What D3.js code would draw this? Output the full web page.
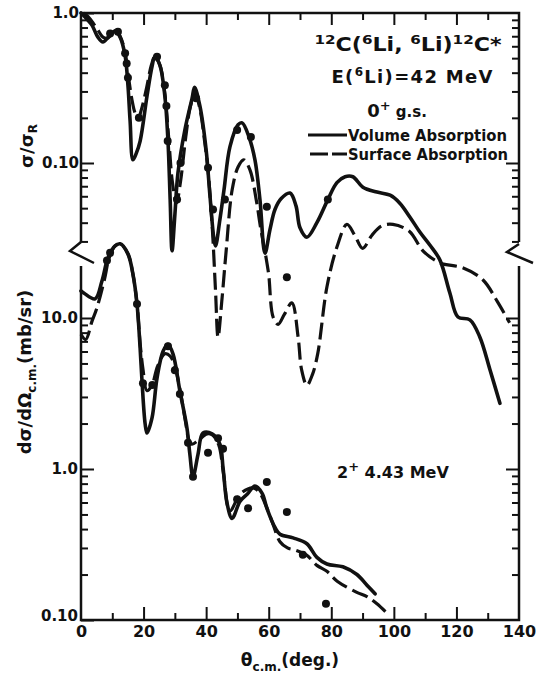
<!DOCTYPE html>
<html><head><meta charset="utf-8">
<script src="https://cdn.jsdelivr.net/npm/d3@7"></script>
<style>
html,body{margin:0;padding:0;background:#fff;}
svg{display:block;}
text{font-family:"DejaVu Sans",Verdana,sans-serif;font-weight:bold;fill:#111;}
</style></head><body>
<svg id="chart" width="537" height="675"></svg>
<script>
// 0+ ground state, sigma/sigma_R : [theta_cm (deg), value]
const gsVolume = [[0,1.0],[1.5,0.93],[3.5,0.83],[5.4,0.69],[7.0,0.64],[9.0,0.70],[11.0,0.76],[12.5,0.69],[14.1,0.52],[15.0,0.33],[15.7,0.19],[16.6,0.105],[17.6,0.115],[18.9,0.14],[21.1,0.28],[22.7,0.44],[23.6,0.51],[25.2,0.45],[26.8,0.28],[27.8,0.14],[28.5,0.057],[29.1,0.026],[30.0,0.045],[31.0,0.086],[33.2,0.166],[35.5,0.27],[36.3,0.32],[38.0,0.24],[40.0,0.122],[41.2,0.061],[42.5,0.031],[43.0,0.028],[44.4,0.042],[45.7,0.066],[47.6,0.128],[50.2,0.18],[51.5,0.185],[53.7,0.149],[55.6,0.105],[57.2,0.057],[58.8,0.025],[60.4,0.036],[62.0,0.049],[64.0,0.058],[66.8,0.063],[68.7,0.052],[70.0,0.037],[72.2,0.032],[75.4,0.040],[78.9,0.057],[81.8,0.074],[84.4,0.081],[86.9,0.081],[90.1,0.069],[94.6,0.064],[98.8,0.061],[101.9,0.054],[105.1,0.0437],[108.3,0.0347],[111.5,0.0284],[114.7,0.0226],[117.9,0.0136],[120.5,0.0094],[124.3,0.0090],[127.5,0.0069],[130.7,0.0042],[133.9,0.0025]];
const gsSurface = [[0.8,1.0],[2.2,0.95],[4.0,0.85],[5.4,0.77],[7.0,0.69],[8.5,0.68],[10.0,0.73],[11.2,0.76],[12.5,0.70],[14.0,0.56],[15.0,0.40],[16.2,0.27],[17.3,0.215],[18.3,0.20],[19.5,0.235],[21.0,0.32],[22.5,0.45],[23.6,0.51],[25.2,0.45],[26.8,0.29],[28.0,0.15],[29.2,0.075],[30.5,0.054],[31.8,0.075],[33.5,0.15],[35.0,0.24],[36.5,0.29],[38.0,0.23],[39.5,0.14],[40.6,0.09],[42.0,0.036],[43.0,0.014],[43.8,0.0069],[45.0,0.012],[46.4,0.026],[48.3,0.066],[50.2,0.094],[52.0,0.105],[54.0,0.09],[56.0,0.057],[57.5,0.036],[59.0,0.0244],[60.0,0.018],[61.4,0.0094],[63.0,0.0084],[65.0,0.0098],[67.4,0.0117],[69.4,0.0069],[70.5,0.0042],[72.2,0.0033],[74.0,0.0039],[75.7,0.0054],[78.6,0.0149],[81.8,0.0275],[85.0,0.039],[87.5,0.033],[90.0,0.027],[93.0,0.033],[96.0,0.038],[99.7,0.039],[105.0,0.035],[109.3,0.026],[114.7,0.0216],[122.0,0.020],[128.5,0.0166],[133.0,0.012],[137.0,0.0086]];
const gsData = [[9.3,0.73],[11.8,0.75],[14.1,0.54],[14.6,0.46],[15.0,0.37],[18.5,0.20],[24.3,0.51],[26.8,0.33],[27.3,0.24],[27.7,0.14],[30.7,0.057],[31.8,0.10],[36.8,0.27],[40.6,0.093],[42.2,0.049],[46.0,0.057],[49.9,0.166],[54.3,0.149],[59.4,0.051],[65.8,0.0173],[78.9,0.057]];

// 2+ 4.43 MeV, dsigma/dOmega (mb/sr)
const exVolume = [[0,15.1],[1.0,14.6],[4.5,13.4],[6.7,17.6],[8.6,24.9],[10.9,30],[12.5,31],[15.0,26.6],[16.6,19.5],[17.9,12.4],[18.9,6.3],[19.5,3.83],[20.5,1.99],[21.1,1.73],[22.7,2.18],[24.3,4.0],[26.2,6.0],[27.8,6.7],[29.4,5.78],[31.6,3.29],[33.9,1.85],[34.8,1.25],[35.8,0.89],[37.4,1.25],[39.0,1.73],[41.9,1.71],[44.4,1.46],[45.4,1.02],[46.7,0.59],[48.3,0.47],[50.8,0.61],[53.1,0.68],[55.6,0.77],[57.9,0.69],[59.4,0.55],[62.0,0.41],[63.6,0.37],[67.8,0.35],[72.2,0.32],[75.4,0.26],[78.6,0.235],[83.7,0.225],[88.2,0.20],[91.4,0.17],[94.0,0.149]];
const exSurface = [[0,7.8],[1.5,7.2],[3.5,9.5],[5.0,11.5],[7.5,18],[9.0,25],[10.9,30],[12.5,31],[15.0,26.6],[16.6,19.5],[17.9,12.4],[18.9,6.8],[19.8,4.6],[21.1,3.3],[22.7,3.6],[24.5,4.8],[26.8,5.8],[28.5,5.6],[30.0,4.8],[31.6,3.4],[33.5,2.0],[34.5,1.55],[35.5,1.46],[37.5,1.55],[40.3,1.71],[42.0,1.68],[44.0,1.45],[45.5,0.95],[47.6,0.53],[51.1,0.69],[55.0,0.75],[57.0,0.70],[59.0,0.58],[61.4,0.43],[63.6,0.33],[66.0,0.30],[68.5,0.29],[72.0,0.27],[75.4,0.23],[78.6,0.21],[82.0,0.18],[88.0,0.153],[91.4,0.143],[94.6,0.128],[97.8,0.111]];
const exData = [[8.3,24],[9.3,27],[17.9,12.4],[19.8,3.7],[22.8,3.6],[27.8,6.5],[30.0,4.5],[31.6,3.14],[34.2,1.49],[35.8,0.89],[40.6,1.28],[43.8,1.60],[45.4,1.36],[49.9,0.63],[53.4,0.55],[59.4,0.82],[65.8,0.52],[70.9,0.27],[78.3,0.128]];

// axis ticks and labels
const xTicks = d3.range(0, 141, 10);
const xLabels = [0, 20, 40, 60, 80, 100, 120, 140];
const topTicks = [0.03,0.04,0.05,0.06,0.07,0.08,0.09,0.1,0.2,0.3,0.4,0.5,0.6,0.7,0.8,0.9,1.0];
const topLabels = new Map([[1.0,"1.0"],[0.1,"0.10"]]);
const botTicks = [0.1,0.2,0.3,0.4,0.5,0.6,0.7,0.8,0.9,1,2,3,4,5,6,7,8,9,10];
const botLabels = new Map([[10,"10.0"],[1,"1.0"],[0.1,"0.10"]]);

const ink = "#111";
const svg = d3.select("#chart");
const L = 81, R = 519, T = 13, B = 620;
const x = d3.scaleLinear().domain([0, 140]).range([L, R]);
const yTop = d3.scaleLog().domain([0.1, 1]).range([163, T]);
const yBot = d3.scaleLog().domain([0.1, 10]).range([B, 318]);
const breakTop = 242, breakBot = 266;

function styleAxis(g) {
  g.select(".domain").remove();
  g.selectAll(".tick line").attr("stroke", ink).attr("stroke-width", 2);
  g.selectAll(".tick text").style("font-size", "15px");
}

// left axes
const gLT = svg.append("g").attr("transform", `translate(${L},0)`)
  .call(d3.axisLeft(yTop).tickValues(topTicks.filter(v => yTop(v) < breakTop)).tickSize(-7).tickPadding(2)
    .tickFormat(d => topLabels.get(d) || ""));
styleAxis(gLT);
gLT.selectAll(".tick line").attr("x2", d => topLabels.has(d) ? 13 : 7);

const gLB = svg.append("g").attr("transform", `translate(${L},0)`)
  .call(d3.axisLeft(yBot).tickValues(botTicks).tickSize(-7).tickPadding(3)
    .tickFormat(d => botLabels.get(d) || ""));
styleAxis(gLB);
gLB.selectAll(".tick line").attr("x2", d => botLabels.has(d) ? 13 : 7);
// lowest label sits just above the angle labels
gLB.selectAll(".tick text").filter(d => d === 0.1).attr("y", -4);

// right axes
const gRT = svg.append("g").attr("transform", `translate(${R},0)`)
  .call(d3.axisRight(yTop).tickValues(topTicks.filter(v => yTop(v) < breakTop && v < 1)).tickSize(-7).tickFormat(""));
styleAxis(gRT);
gRT.selectAll(".tick line").attr("x2", d => topLabels.has(d) ? -13 : -7);
const gRB = svg.append("g").attr("transform", `translate(${R},0)`)
  .call(d3.axisRight(yBot).tickValues(botTicks.filter(v => v > 0.1)).tickSize(-7).tickFormat(""));
styleAxis(gRB);
gRB.selectAll(".tick line").attr("x2", d => botLabels.has(d) ? -13 : -7);

// top and bottom axes
const gT = svg.append("g").attr("transform", `translate(0,${T})`)
  .call(d3.axisTop(x).tickValues(xTicks.filter(v => v > 0 && v < 140)).tickSize(-7).tickFormat(""));
styleAxis(gT);
gT.selectAll(".tick line").attr("y2", d => d % 20 === 0 ? 12 : 7);

const gB = svg.append("g").attr("transform", `translate(0,${B})`)
  .call(d3.axisBottom(x).tickValues(xTicks).tickSize(-7).tickPadding(6)
    .tickFormat(d => xLabels.includes(d) ? String(d) : ""));
styleAxis(gB);
gB.selectAll(".tick line").attr("y2", d => (d === 0 || d === 140) ? 0 : (d % 20 === 0 ? -13 : -7));
gB.selectAll(".tick text").style("font-size", "16px");

// frame with axis breaks
const frame = svg.append("g").attr("fill", "none").attr("stroke", ink).attr("stroke-width", 2.5)
  .attr("stroke-linejoin", "miter");
frame.append("path").attr("d", `M${L},${breakTop} L${L},${T} L${R},${T} L${R},${breakTop}`);
frame.append("path").attr("d", `M${L},${breakBot} L${L},${B} L${R},${B} L${R},${breakBot}`);
frame.append("path").attr("d", `M${L},${breakTop} L${L - 11},${breakTop + 9} L${L + 13},${breakTop + 21}`);
frame.append("path").attr("d", `M${R},${breakTop + 2} L${R - 12},${breakTop + 10} L${R + 14},${breakTop + 21}`);

// curves
const lineTop = d3.line().x(d => x(d[0])).y(d => yTop(d[1])).curve(d3.curveCatmullRom.alpha(0.5));
const lineBot = d3.line().x(d => x(d[0])).y(d => yBot(d[1])).curve(d3.curveCatmullRom.alpha(0.5));
const curves = svg.append("g").attr("fill", "none").attr("stroke", ink);
const dash = "17,6";
curves.append("path").attr("d", lineTop(gsSurface)).attr("stroke-width", 3.2).attr("stroke-dasharray", dash);
curves.append("path").attr("d", lineBot(exSurface)).attr("stroke-width", 3.2).attr("stroke-dasharray", dash);
curves.append("path").attr("d", lineTop(gsVolume)).attr("stroke-width", 3.6).attr("stroke-linecap", "round");
curves.append("path").attr("d", lineBot(exVolume)).attr("stroke-width", 3.6).attr("stroke-linecap", "round");

// measured points
svg.append("g").selectAll("circle").data(gsData).join("circle")
  .attr("cx", d => x(d[0])).attr("cy", d => yTop(d[1])).attr("r", 4).attr("fill", ink);
svg.append("g").selectAll("circle").data(exData).join("circle")
  .attr("cx", d => x(d[0])).attr("cy", d => yBot(d[1])).attr("r", 4).attr("fill", ink);

// annotations
const ann = svg.append("g").style("font-size", "18px");
const t1 = ann.append("text").attr("x", 408).attr("y", 51).attr("text-anchor", "middle")
  .attr("textLength", 187).attr("lengthAdjust", "spacingAndGlyphs");
[["12",1],["C(",0],["6",1],["Li, ",0],["6",1],["Li)",0],["12",1],["C*",0]].forEach(([s, sup]) => {
  const ts = t1.append("tspan").text(s);
  if (sup) ts.attr("dy", -7).style("font-size", "13px");
  else ts.attr("dy", 7).style("font-size", "19px");
});
t1.select("tspan").attr("dy", -7);
const t2 = ann.append("text").attr("x", 412).attr("y", 83).attr("text-anchor", "middle")
  .attr("textLength", 161).attr("lengthAdjust", "spacing");
t2.append("tspan").text("E(");
t2.append("tspan").attr("dy", -7).style("font-size", "12px").text("6");
t2.append("tspan").attr("dy", 7).text("Li)=42 MeV");
const t3 = ann.append("text").attr("x", 397).attr("y", 117).attr("text-anchor", "middle");
t3.append("tspan").text("0");
t3.append("tspan").attr("dy", -7).style("font-size", "13px").text("+");
t3.append("tspan").attr("dy", 7).style("font-size", "15px").text(" g.s.");

// legend
const leg = svg.append("g");
leg.append("line").attr("x1", 308).attr("x2", 347).attr("y1", 135).attr("y2", 135).attr("stroke", ink).attr("stroke-width", 3);
leg.append("line").attr("x1", 310).attr("x2", 347).attr("y1", 154).attr("y2", 154).attr("stroke", ink).attr("stroke-width", 3).attr("stroke-dasharray", "18,4");
leg.append("text").attr("x", 348).attr("y", 141).style("font-size", "15px")
  .attr("textLength", 159).attr("lengthAdjust", "spacingAndGlyphs").text("Volume Absorption");
leg.append("text").attr("x", 348).attr("y", 160).style("font-size", "15px")
  .attr("textLength", 160).attr("lengthAdjust", "spacingAndGlyphs").text("Surface Absorption");

const t4 = ann.append("text").attr("x", 337).attr("y", 478).style("font-size", "16px");
t4.append("tspan").text("2");
t4.append("tspan").attr("dy", -7).style("font-size", "13px").text("+");
t4.append("tspan").attr("dy", 7).text(" 4.43 MeV");

// axis titles
const yt1 = svg.append("text").attr("transform", "translate(33,146) rotate(-90)").attr("text-anchor", "middle").style("font-size", "18px");
yt1.append("tspan").text("σ/σ");
yt1.append("tspan").attr("dy", 4).style("font-size", "12px").text("R");
const yt2 = svg.append("text").attr("transform", "translate(31,372) rotate(-90)").attr("text-anchor", "middle").style("font-size", "18px");
yt2.append("tspan").text("dσ/dΩ");
yt2.append("tspan").attr("dy", 5).style("font-size", "12px").text("c.m.");
yt2.append("tspan").attr("dy", -5).text("(mb/sr)");
const xt = svg.append("text").attr("x", 290).attr("y", 666).attr("text-anchor", "middle").style("font-size", "17px");
xt.append("tspan").text("θ");
xt.append("tspan").attr("dy", 5).style("font-size", "12px").text("c.m.");
xt.append("tspan").attr("dy", -5).text("(deg.)");
</script>
</body></html>
